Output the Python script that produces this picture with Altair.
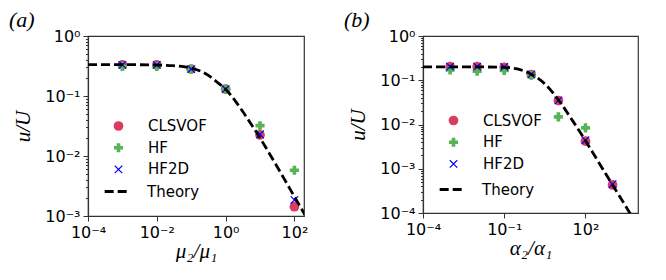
import altair as alt
import pandas as pd

# ---------------- Panel (a): viscosity ratio ----------------
mu_ratio = [1e-3, 1e-2, 1e-1, 1.0, 10.0, 100.0]
clsvof_a = [0.33, 0.33, 0.28, 0.13, 0.0224, 0.00143]
hf_a = [0.31, 0.31, 0.28, 0.13, 0.032, 0.0058]
hf2d_a = [0.33, 0.33, 0.28, 0.13, 0.023, 0.00185]

theory_a_x = [1e-4, 1e-3, 1e-2, 0.03, 0.1, 0.2, 0.316, 0.5, 1.0, 2.0, 3.16, 5.0, 10.0, 20.0, 31.6, 50.0, 100.0, 250.0]
theory_a_y = [0.333, 0.333, 0.328, 0.32, 0.29, 0.255, 0.22, 0.18, 0.13, 0.08, 0.055, 0.037, 0.02, 0.0103, 0.0066, 0.0042, 0.0021, 0.00085]

# ---------------- Panel (b): diffusivity ratio ----------------
alpha_ratio = [1e-3, 1e-2, 1e-1, 1.0, 10.0, 100.0, 1000.0]
clsvof_b = [0.203, 0.203, 0.196, 0.134, 0.0348, 0.0042, 0.00043]
hf_b_x = [1e-3, 1e-2, 1e-1, 1.0, 10.0, 100.0]
hf_b = [0.171, 0.16, 0.166, 0.13, 0.0149, 0.0084]
hf2d_b = [0.203, 0.203, 0.2, 0.136, 0.035, 0.0044, 0.00045]

theory_b_x = [1e-4, 1e-3, 1e-2, 0.1, 0.3, 1.0, 3.0, 10.0, 30.0, 100.0, 300.0, 1000.0, 3000.0, 6000.0]
theory_b_y = [0.2, 0.2, 0.2, 0.196, 0.18, 0.137, 0.085, 0.036, 0.0135, 0.0043, 0.00143, 0.00043, 0.000145, 0.000072]

# ---------------- tick labels ----------------
xticks_a = [1e-4, 1e-2, 1.0, 100.0]
xlabels_a = ["10⁻⁴", "10⁻²", "10⁰", "10²"]
yticks_a = [1e-3, 1e-2, 1e-1, 1.0]
ylabels_a = ["10⁻³", "10⁻²", "10⁻¹", "10⁰"]
xticks_b = [1e-4, 1e-1, 100.0]
xlabels_b = ["10⁻⁴", "10⁻¹", "10²"]
yticks_b = [1e-4, 1e-3, 1e-2, 1e-1, 1.0]
ylabels_b = ["10⁻⁴", "10⁻³", "10⁻²", "10⁻¹", "10⁰"]

series = ["CLSVOF", "HF", "HF2D"]
colors = ["#DA3D62", "#56B356", "#0000FF"]
x_path = ("M-1,-0.8L-0.8,-1L0,-0.2L0.8,-1L1,-0.8L0.2,0L1,0.8L0.8,1"
          "L0,0.2L-0.8,1L-1,0.8L-0.2,0Z")
shapes = ["circle", "cross", x_path]
sizes = [95, 70, 75]
theory_name = ["Theory"]


def long_points(xs_list, ys_list, names):
    rows = []
    for xs, ys, n in zip(xs_list, ys_list, names):
        for xv, yv in zip(xs, ys):
            rows.append({"x": xv, "y": yv, "series": n})
    return pd.DataFrame(rows)


def label_expr(vals, labs):
    expr = "''"
    for v, l in reversed(list(zip(vals, labs))):
        expr = f"datum.value == {v!r} ? '{l}' : ({expr})"
    return expr


def with_minor(majors):
    vals = []
    for m in majors[:-1]:
        vals += [k * m for k in range(1, 10)]
    vals.append(majors[-1])
    return vals


def panel(df_pts, df_th, xdom, ydom, xt, xl, yt, yl, xtitle, ptitle, w, h, leg_y1, leg_y2):
    xscale = alt.Scale(type="log", domain=xdom, nice=False)
    yscale = alt.Scale(type="log", domain=ydom, nice=False)
    major_test = "indexof([" + ",".join(repr(v) for v in yt) + "], datum.value) >= 0"
    xaxis = alt.Axis(values=xt, labelExpr=label_expr(xt, xl), title=xtitle,
                     tickSize=5, labelPadding=3, titlePadding=0,
                     labelOverlap=False, labelFlush=False, labelBound=False)
    yaxis = alt.Axis(values=with_minor(yt), labelExpr=label_expr(yt, yl), title="u/U",
                     tickSize={"condition": {"test": major_test, "value": 5}, "value": 2.5},
                     labelPadding=3, titlePadding=10, minExtent=45, maxExtent=45,
                     labelOverlap=False, labelFlush=False, labelBound=False)
    leg1 = alt.Legend(title=None, orient="none", legendX=23, legendY=leg_y1, padding=0,
                      labelFont="DejaVu Sans", labelFontSize=15, labelColor="black",
                      labelOffset=22, rowPadding=5.7, symbolOpacity=1, symbolSize=85,
                      symbolStrokeWidth=0)
    leg2 = alt.Legend(title=None, orient="none", legendX=15, legendY=leg_y2, padding=0,
                      labelFont="DejaVu Sans", labelFontSize=15, labelColor="black",
                      labelOffset=17, symbolSize=560, symbolType="stroke",
                      symbolStrokeColor="black", symbolStrokeWidth=2.8)
    pts = alt.Chart(df_pts).mark_point(filled=True, opacity=1, strokeWidth=0).encode(
        x=alt.X("x:Q", scale=xscale, axis=xaxis),
        y=alt.Y("y:Q", scale=yscale, axis=yaxis),
        color=alt.Color("series:N", scale=alt.Scale(domain=series, range=colors), legend=leg1),
        shape=alt.Shape("series:N", scale=alt.Scale(domain=series, range=shapes), legend=leg1),
        size=alt.Size("series:N", scale=alt.Scale(domain=series, range=sizes), legend=None),
    )
    line = alt.Chart(df_th).mark_line(color="black", strokeWidth=2.8,
                                      clip=True, interpolate="monotone").encode(
        x=alt.X("x:Q", scale=xscale, axis=xaxis),
        y=alt.Y("y:Q", scale=yscale, axis=yaxis),
        strokeDash=alt.StrokeDash("kind:N", scale=alt.Scale(domain=theory_name, range=[[9, 4]]),
                                  legend=leg2),
    )
    return alt.layer(pts, line).properties(
        width=w, height=h,
        title=alt.TitleParams(ptitle, anchor="start", frame="bounds", font="Liberation Serif",
                              fontStyle="italic", fontSize=22, fontWeight="normal",
                              color="black", offset=-4, dx=-3),
    )


pts_a = long_points([mu_ratio, mu_ratio, mu_ratio], [clsvof_a, hf_a, hf2d_a], series)
th_a = pd.DataFrame({"x": theory_a_x, "y": theory_a_y, "kind": theory_name[0]})
pts_b = long_points([alpha_ratio, hf_b_x, alpha_ratio], [clsvof_b, hf_b, hf2d_b], series)
th_b = pd.DataFrame({"x": theory_b_x, "y": theory_b_y, "kind": theory_name[0]})

pa = panel(pts_a, th_a, [1e-4, 190], [1e-3, 1.0], xticks_a, xlabels_a, yticks_a, ylabels_a,
           "μ₂/μ₁", "(a)", 216, 180, 82.5, 142)
pb = panel(pts_b, th_b, [1e-4, 8700], [1e-4, 1.0], xticks_b, xlabels_b, yticks_b, ylabels_b,
           "α₂/α₁", "(b)", 215, 177, 77, 140)

chart = alt.hconcat(pa, pb, spacing=34).resolve_scale(
    color="independent", shape="independent", size="independent", strokeDash="independent"
).resolve_legend(
    color="independent", shape="independent", size="independent", strokeDash="independent"
).properties(
    padding=0
).configure_view(stroke="#333333", strokeWidth=1.2).configure_axis(
    grid=False, domainColor="#333333", domainWidth=1.2, tickColor="#333333", tickWidth=1,
    labelFont="DejaVu Sans", labelFontSize=16, labelColor="black",
    titleFont="Liberation Serif", titleFontStyle="italic", titleFontWeight="normal",
    titleFontSize=21, titleColor="black",
)

chart.save("out.html", embed_options={"renderer": "svg", "actions": False})
